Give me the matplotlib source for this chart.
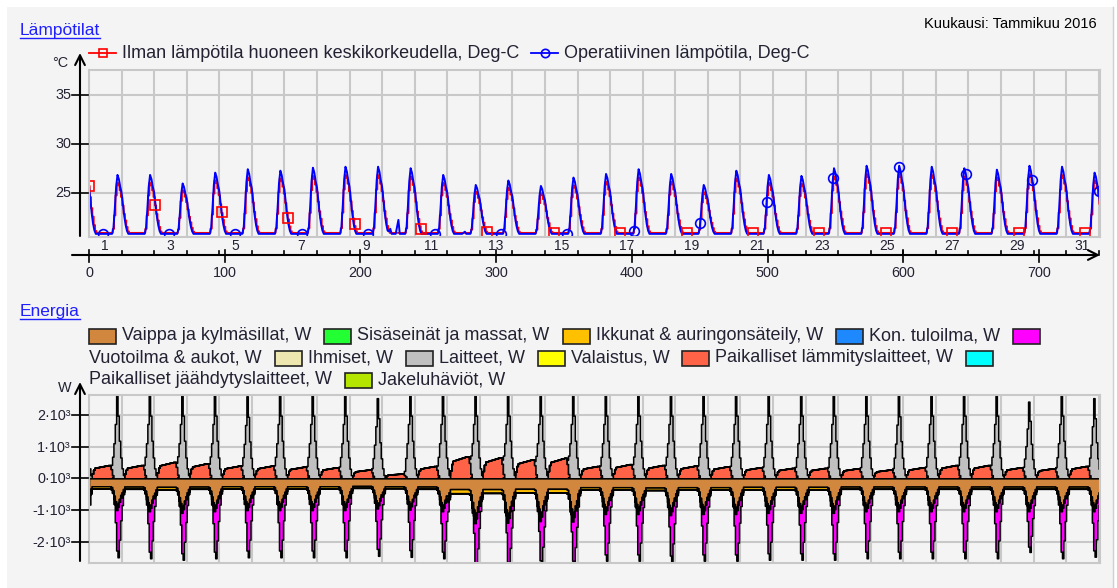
import numpy as np
import matplotlib
matplotlib.use("Agg")
import matplotlib.pyplot as plt
from matplotlib.patches import Rectangle

plt.rcParams["font.family"] = ["Liberation Sans", "DejaVu Sans"]

# ---------------- temperatures, deg C ----------------
# daily evening peak; first value = 31.12. (only its tail is visible at hour 0)
AIR_PEAK = [27.6, 26.05, 26.05, 25.3, 26.3, 26.6, 26.5, 26.75, 26.85, 26.85, 26.7,
            26.05, 25.15, 25.55, 25.0, 25.8, 26.15, 26.6, 26.15, 25.1, 26.5,
            26.05, 25.95, 26.7, 26.95, 26.95, 26.85, 26.7, 26.6, 26.95, 26.85, 26.3]
OPER_PEAK = [27.8, 26.87, 26.87, 26.0, 27.1, 27.45, 27.3, 27.6, 27.7, 27.7, 27.55,
             26.87, 25.85, 26.3, 25.75, 26.6, 26.97, 27.45, 26.97, 25.85, 27.3,
             26.87, 26.77, 27.55, 27.8, 27.8, 27.7, 27.55, 27.4, 27.8, 27.7, 27.1]
# short daytime bumps of the operative temperature: (day, hour, deg C)
OPER_BUMPS = [(10, 6, 21.4), (10, 12, 22.3), (12, 13, 21.1)]
AIR_BASE = 20.98
OPER_BASE = 20.88
# shape of the daily pulse, hours -3 .. +9 around the peak (hour 21)
AIR_PULSE = [0.08, 0.35, 0.75, 1.0, 0.95, 0.85, 0.72, 0.55, 0.38, 0.25, 0.12, 0.03, 0.0]
OPER_PULSE = [0.1, 0.42, 0.8, 1.0, 0.93, 0.8, 0.7, 0.5, 0.3, 0.15, 0.05, 0.0, 0.0]

# ---------------- energy, W (days 1..31) ----------------
HEAT_W = [420, 420, 520, 475, 400, 400, 370, 350, 280, 150, 390, 700, 660, 600, 650,
          390, 450, 420, 400, 380, 350, 330, 330, 320, 280, 350, 420, 420, 350, 320, 390]
DEVICE_PEAK_W = [2650, 2650, 2650, 2650, 2600, 2650, 2650, 2650, 2540, 2650, 2650,
                 2650, 2650, 2650, 2650, 2650, 2650, 2650, 2650, 2650, 2650, 2650,
                 2650, 2650, 2620, 2650, 2650, 2650, 2430, 2650, 2540]
ENVELOPE_W = [-250, -260, -270, -260, -250, -250, -250, -250, -240, -250, -260,
              -340, -340, -330, -330, -280, -280, -290, -280, -280, -270, -270,
              -270, -260, -260, -260, -260, -260, -260, -260, -260]
WINDOW_W = [-70, -70, -80, -70, -70, -70, -70, -70, -60, -60, -70, -130, -120, -110,
            -120, -80, -80, -80, -80, -80, -80, -80, -80, -70, -70, -70, -70, -70, -70, -70, -70]
LEAK_PEAK_W = [-1600, -1600, -1600, -1600, -1600, -1600, -1600, -1600, -1600, -1600,
               -1600, -1550, -1550, -1550, -1550, -1600, -1600, -1600, -1600, -1600,
               -1600, -1600, -1600, -1600, -1600, -1600, -1600, -1600, -1400, -1600, -1550]
INNER_W = 40
# hour-of-day profiles
DEVICE_PROFILE = [0.12, 0.04, 0, 0, 0, 0, 0, 0, 0, 0, 0, 0, 0, 0, 0, 0,
                  0.05, 0.22, 0.42, 0.65, 1.0, 0.75, 0.45, 0.25]
HEAT_PROFILE = [0, 0, 0.35, 0.65, 0.8, 0.82, 0.84, 0.86, 0.88, 0.9, 0.92, 0.94,
                0.96, 0.98, 1.0, 1.0, 0.7, 0.15, 0, 0, 0, 0, 0, 0]
ENVELOPE_PROFILE = [1.7, 1.3, 1, 1, 1, 1, 1, 1, 1, 1, 1, 1, 1, 1, 1, 1, 1.1,
                    1.5, 2.2, 2.9, 3.6, 3.2, 2.6, 2.1]
WINDOW_PROFILE = [1.2, 1.1, 1, 1, 1, 1, 1, 1, 1, 1, 1, 1, 1, 1, 1, 1, 1,
                  1.2, 1.4, 1.5, 1.5, 1.4, 1.3, 1.2]
LEAK_PROFILE = [0.2, 0.05, 0, 0, 0, 0, 0, 0, 0, 0, 0, 0, 0, 0, 0, 0, 0,
                0, 0.1, 0.35, 0.8, 1.0, 0.75, 0.45]
INNER_PROFILE = [0, 0, 0, 0, 0, 0, 0, 0, 0, 0, 0, 0, 0, 0, 0, 0, 0,
                 1, 0, 0, 0, 0, 0, 0]

LEGEND_T = [("Ilman lämpötila huoneen keskikorkeudella, Deg-C", "#ff0000", "s"),
            ("Operatiivinen lämpötila, Deg-C", "#0000ff", "o")]
LEGEND_E = [("Vaippa ja kylmäsillat, W", "#d2873f"),
            ("Sisäseinät ja massat, W", "#22ff33"),
            ("Ikkunat & auringonsäteily, W", "#ffc000"),
            ("Kon. tuloilma, W", "#1e88ff"),
            ("Vuotoilma & aukot, W", "#ff00ff"),
            ("Ihmiset, W", "#eee8b0"),
            ("Laitteet, W", "#c0c0c0"),
            ("Valaistus, W", "#ffff00"),
            ("Paikalliset lämmityslaitteet, W", "#ff6347"),
            ("Paikalliset jäähdytyslaitteet, W", "#00ffff"),
            ("Jakeluhäviöt, W", "#b4e600")]
T_TICKS = [25, 30, 35]
X_MAJOR = [0, 100, 200, 300, 400, 500, 600, 700]
E_TICKS = [-2000, -1000, 0, 1000, 2000]
E_TICK_LABELS = ["-2·10³", "-1·10³", "0·10³", "1·10³", "2·10³"]
MARK_STEP = 48.93   # hours between markers
AIR_MARK_START = 0
OPER_MARK_START = 10

N = 746
hours = np.arange(N)


def daily_pulse(peaks, base, shape, centre_hour, lead):
    out = np.full(N, base)
    for d, peak in enumerate(peaks):
        c = 24 * (d - 1) + centre_hour
        for k, f in enumerate(shape):
            h = c + k - lead
            if 0 <= h < N:
                out[h] = max(out[h], base + (peak - base) * f)
    return out


def per_hour(day_vals, profile):
    day = np.minimum(hours // 24, 30)
    vals = np.broadcast_to(np.asarray(day_vals, float), (31,))
    return vals[day] * np.asarray(profile, float)[hours % 24]


air = daily_pulse(AIR_PEAK, AIR_BASE, AIR_PULSE, 21, 3)
oper = daily_pulse(OPER_PEAK, OPER_BASE, OPER_PULSE, 21, 3)
for d, h, v in OPER_BUMPS:
    i = 24 * (d - 1) + h
    oper[i] = max(oper[i], v)
    oper[i - 1] = max(oper[i - 1], (v + OPER_BASE) / 2)

heat = per_hour(HEAT_W, HEAT_PROFILE)
inner = per_hour(INNER_W, INNER_PROFILE)
device = per_hour(DEVICE_PEAK_W, DEVICE_PROFILE)
envelope = per_hour(ENVELOPE_W, ENVELOPE_PROFILE)
window = per_hour(WINDOW_W, WINDOW_PROFILE)
leak = per_hour(LEAK_PEAK_W, LEAK_PROFILE)

W, H = 1117, 588
fig = plt.figure(figsize=(W / 100, H / 100), dpi=100, facecolor="white")
BG = "#f4f4f4"
GRID = "#c8c8c8"
TXT = "#222233"

bg = fig.add_axes([0, 0, 1, 1], zorder=0)
bg.set_xlim(0, W)
bg.set_ylim(H, 0)
bg.axis("off")
bg.add_patch(Rectangle((7, 7), 1106, 590, fc=BG, ec="none"))
bg.plot([1113, 1113], [7, H], color="#d0d0d0", lw=1)


def setup(ax, ylim, yt):
    ax.set_facecolor(BG)
    ax.set_xlim(0, 745)
    ax.set_ylim(*ylim)
    ax.set_xticks(np.arange(24, 745, 24))
    ax.set_yticks(yt)
    ax.grid(True, color=GRID, lw=1.5)
    ax.set_axisbelow(True)
    ax.tick_params(length=0, labelbottom=False, labelleft=False)
    for s in ax.spines.values():
        s.set_color(GRID)
        s.set_linewidth(1.5)


axT = fig.add_axes([89 / W, 1 - 237 / H, 1011 / W, 167 / H], zorder=1)
setup(axT, (20.56, 37.53), T_TICKS)
axT.plot(hours, air, color="#ff0000", lw=1.3, drawstyle="steps-mid")
axT.plot(hours, oper, color="#0000ff", lw=1.4)
mx = np.arange(AIR_MARK_START, N - 1, MARK_STEP)
axT.plot(mx, np.interp(mx, hours, air), ls="none", marker="s", ms=6.5,
         mfc="none", mec="#ff0000", mew=1.2)
mx = np.arange(OPER_MARK_START, N - 1, MARK_STEP)
axT.plot(mx, np.interp(mx, hours, oper), ls="none", marker="o", ms=7,
         mfc="none", mec="#0000ff", mew=1.2)

axB = fig.add_axes([89 / W, 1 - 563 / H, 1011 / W, 168 / H], zorder=1)
setup(axB, (-2680, 2640), E_TICKS)
kw = dict(step="post", edgecolor="black", lw=1.1)
axB.fill_between(hours, 0, inner, facecolor="#22ff33", **kw)
axB.fill_between(hours, inner, inner + heat, facecolor="#ff6347", **kw)
axB.fill_between(hours, inner + heat, inner + heat + device, facecolor="#c0c0c0", **kw)
axB.fill_between(hours, 0, envelope, facecolor="#d2873f", **kw)
axB.fill_between(hours, envelope, envelope + window, facecolor="#ffc000", **kw)
axB.fill_between(hours, envelope + window, envelope + window + leak,
                 facecolor="#ff00ff", **kw)

# ---------------- decorations in pixel space ----------------
ov = fig.add_axes([0, 0, 1, 1], zorder=3)
ov.set_xlim(0, W)
ov.set_ylim(H, 0)
ov.axis("off")
ov.patch.set_alpha(0)
fig.canvas.draw()
rend = fig.canvas.get_renderer()


def px(ax, x, y):
    X, Y = ax.transData.transform((x, y))
    return X, H - Y


def arrow(x0, y0, x1, y1):
    ov.annotate("", xy=(x1, y1), xytext=(x0, y0),
                arrowprops=dict(arrowstyle="->,head_length=0.7,head_width=0.35",
                                color="black", lw=1.5, shrinkA=0, shrinkB=0))


def title(x, y, s):
    t = ov.text(x, y, s, fontsize=12.5, color="#1f1fff", va="baseline")
    w = t.get_window_extent(rend).width
    ov.plot([x, x + w], [y + 2.5, y + 2.5], color="#1f1fff", lw=1)


title(20, 35, "Lämpötilat")
title(20, 316, "Energia")
ov.text(1097, 24, "Kuukausi: Tammikuu 2016", fontsize=10.5, color="black",
        ha="right", va="center")

# temperature axes
arrow(80, 236, 80, 53)
ov.text(68, 63, "°C", fontsize=10.4, color=TXT, ha="right", va="center")
for v in T_TICKS:
    _, y = px(axT, 0, v)
    ov.plot([72, 88], [y, y], color="black", lw=1.2)
    ov.text(71, y, str(v), fontsize=10.4, color=TXT, ha="right", va="center")
arrow(72, 255, 1100, 255)
for h in range(24, 745, 24):
    x, _ = px(axT, h, 0)
    ov.plot([x, x], [250.5, 255], color="black", lw=1.2)
for h in X_MAJOR:
    x, _ = px(axT, h, 0)
    ov.plot([x, x], [250, 262], color="black", lw=1.2)
    ov.text(x, 273, str(h), fontsize=10.4, color=TXT, ha="center", va="center")
for d in range(1, 32, 2):
    x, _ = px(axT, 24 * (d - 1) + 12, 0)
    ov.text(x, 246, str(d), fontsize=10, color=TXT, ha="center", va="center")

# energy axes
arrow(80, 561, 80, 382)
ov.text(72, 388, "W", fontsize=10.4, color=TXT, ha="right", va="center")
for v, lab in zip(E_TICKS, E_TICK_LABELS):
    _, y = px(axB, 0, v)
    ov.plot([72, 88], [y, y], color="black", lw=1.2)
    ov.text(71, y + 1, lab, fontsize=10.4, color=TXT, ha="right", va="center")

# temperature legend
x = 89
for lab, col, mk in LEGEND_T:
    ov.plot([x, x + 27], [53, 53], color=col, lw=1.3)
    ov.plot([x + 14], [53], marker=mk, ms=6, mfc="none", mec=col, mew=1.2)
    t = ov.text(x + 33, 53, lab, fontsize=13, color=TXT, va="center")
    x += 33 + t.get_window_extent(rend).width + 12

# energy legend, flowing text
x0, xmax, y, row_h = 89, 1100, 336, 22
x = x0
for lab, col in LEGEND_E:
    if x + 27 > xmax:
        x, y = x0, y + row_h
    ov.add_patch(Rectangle((x, y - 7.5), 27, 15, fc=col, ec="#222222", lw=1.2))
    x += 33
    t = ov.text(x, y, lab, fontsize=13, color=TXT, va="center")
    w = t.get_window_extent(rend).width
    if x + w > xmax:
        x, y = x0, y + row_h
        t.set_position((x, y))
    x += w + 13

fig.savefig("out.png", dpi=100, facecolor=fig.get_facecolor())
